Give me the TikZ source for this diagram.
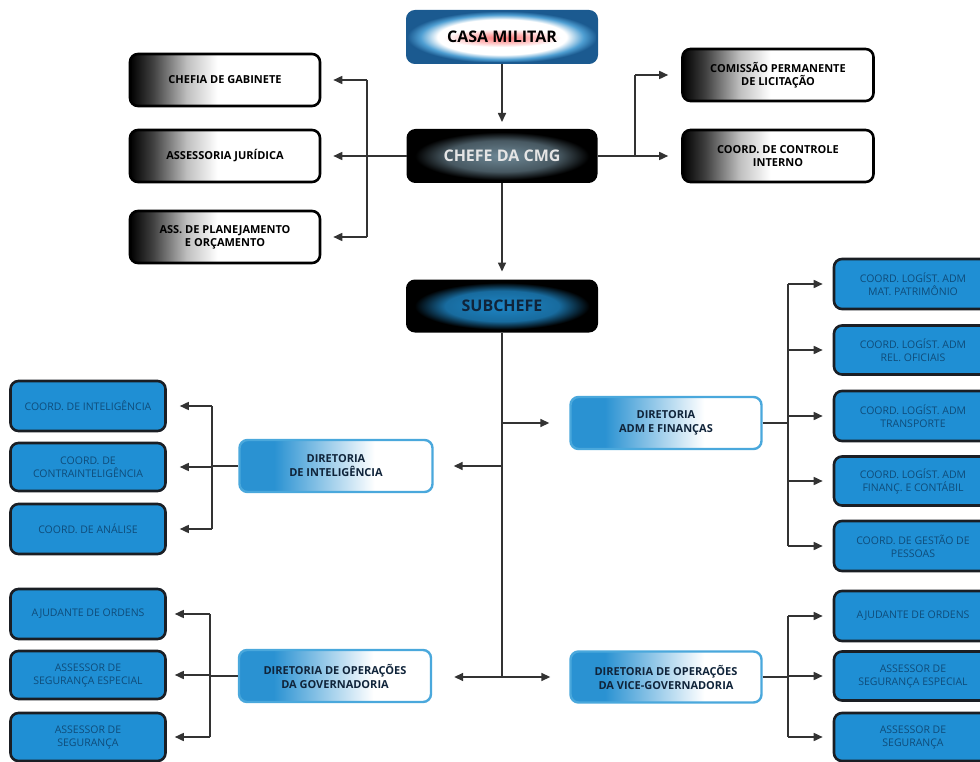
\documentclass[tikz,border=0pt]{standalone}
\usepackage{fontspec}
\setmainfont{Open Sans}
\usetikzlibrary{shapes.geometric,arrows.meta,calc}
\definecolor{leafblue}{HTML}{1F8FD4}
\definecolor{leafedge}{HTML}{1A1E24}
\definecolor{leaftext}{HTML}{0F4C7A}
\definecolor{dirblue}{HTML}{2A92D2}
\definecolor{diredge}{HTML}{4AA8DC}
\definecolor{navy}{HTML}{10243A}
\definecolor{linec}{HTML}{333333}
\definecolor{chefec}{HTML}{6E8896}
\definecolor{subc}{HTML}{1E86C6}
\definecolor{casarim}{HTML}{1B5A90}
\definecolor{casamid}{HTML}{4E9ED2}
\pgfdeclarehorizontalshading{grayfade}{100bp}{color(0bp)=(black); color(25bp)=(black); color(31bp)=(black!75); color(40bp)=(black!25); color(48bp)=(white); color(100bp)=(white)}
\pgfdeclarehorizontalshading{bluefade}{100bp}{color(0bp)=(dirblue); color(25bp)=(dirblue); color(34bp)=(dirblue); color(60bp)=(white); color(100bp)=(white)}
\pgfdeclareradialshading{chefeshade}{\pgfpoint{0bp}{0bp}}{color(0bp)=(chefec); color(15bp)=(chefec!65!black); color(23bp)=(black); color(50bp)=(black)}
\pgfdeclareradialshading{subshade}{\pgfpoint{0bp}{0bp}}{color(0bp)=(subc); color(15bp)=(subc!80!black); color(23bp)=(black); color(50bp)=(black)}
\pgfdeclareradialshading{casashade}{\pgfpoint{0bp}{0bp}}{color(0bp)=(white); color(17bp)=(white); color(21.5bp)=(casamid); color(25bp)=(casarim); color(50bp)=(casarim)}
\tikzset{
  graybox/.style={draw=black, line width=2.6pt, rounded corners=8pt, shade, shading=grayfade,
    text=black, font=\bfseries\fontsize{11}{13}\selectfont, align=center, inner sep=0pt},
  leafbox/.style={draw=leafedge, fill=leafblue, line width=2.6pt, rounded corners=8pt,
    text=leaftext, font=\fontsize{10.5}{13}\selectfont, align=center, inner sep=0pt},
  dirbox/.style={draw=diredge, line width=2.4pt, rounded corners=8pt, shade, shading=bluefade,
    text=navy, font=\bfseries\fontsize{11}{14}\selectfont, align=center, inner sep=0pt},
  conn/.style={draw=linec, line width=1.6pt},
  arr/.style={conn, -{Triangle[length=9pt,width=8pt]}},
}
\begin{document}
\begin{tikzpicture}[x=1pt,y=-1pt]
\useasboundingbox (0,0) rectangle (980,762);
\fill[white] (0,0) rectangle (980,762);
\clip (0,0) rectangle (980,762);
% top
\node[draw=casarim, line width=2pt, rounded corners=8pt, shade, shading=casashade,
  minimum width=190pt, minimum height=52pt] (casa) at (502,37) {};
\node[ellipse, shade, inner color=red!55, outer color=white, minimum width=118pt, minimum height=18pt] (casaglow) at (502,38) {};
\node[font=\bfseries\fontsize{16}{18}\selectfont, text=black] (casalbl) at (502,37) {CASA MILITAR};
\node[draw=black, line width=2pt, rounded corners=8pt, shade, shading=chefeshade,
  minimum width=189pt, minimum height=52pt, text=gray!20, font=\bfseries\fontsize{16}{18}\selectfont] (chefe) at (502,156) {CHEFE DA CMG};
\node[graybox, minimum width=190pt, minimum height=52pt] (gab) at (225,80) {CHEFIA DE GABINETE};
\node[graybox, minimum width=190pt, minimum height=52pt] (jur) at (225,156) {ASSESSORIA JURÍDICA};
\node[graybox, minimum width=190pt, minimum height=52pt] (plan) at (225,237) {ASS. DE PLANEJAMENTO\\E ORÇAMENTO};
\node[graybox, minimum width=191pt, minimum height=52pt] (com) at (778,75) {COMISSÃO PERMANENTE\\DE LICITAÇÃO};
\node[graybox, minimum width=191pt, minimum height=52pt] (ctrl) at (778,156) {COORD. DE CONTROLE\\INTERNO};
\node[draw=black, line width=2pt, rounded corners=8pt, shade, shading=subshade,
  minimum width=190pt, minimum height=51pt, text=navy, font=\bfseries\fontsize{16}{18}\selectfont] (sub) at (502,306) {SUBCHEFE};
% directorates
\node[dirbox, minimum width=193pt, minimum height=52pt] (dint) at (336,466) {DIRETORIA\\DE INTELIGÊNCIA};
\node[dirbox, minimum width=191pt, minimum height=52pt] (dadm) at (666,423) {DIRETORIA\\ADM E FINANÇAS};
\node[dirbox, minimum width=192pt, minimum height=52pt] (dgov) at (335,676) {DIRETORIA DE OPERAÇÕES\\DA GOVERNADORIA};
\node[dirbox, minimum width=191pt, minimum height=51pt] (dvice) at (666,677) {DIRETORIA DE OPERAÇÕES\\DA VICE-GOVERNADORIA};
% leaves left
\node[leafbox, minimum width=155pt, minimum height=50pt] (ci1) at (88,406) {COORD. DE INTELIGÊNCIA};
\node[leafbox, minimum width=155pt, minimum height=48pt] (ci2) at (88,467) {COORD. DE\\CONTRAINTELIGÊNCIA};
\node[leafbox, minimum width=155pt, minimum height=50pt] (ci3) at (88,529) {COORD. DE ANÁLISE};
\node[leafbox, minimum width=155pt, minimum height=50pt] (g1) at (88,614) {AJUDANTE DE ORDENS};
\node[leafbox, minimum width=155pt, minimum height=48pt] (g2) at (88,675) {ASSESSOR DE\\SEGURANÇA ESPECIAL};
\node[leafbox, minimum width=155pt, minimum height=48pt] (g3) at (88,737) {ASSESSOR DE\\SEGURANÇA};
% leaves right
\node[leafbox, minimum width=158pt, minimum height=50pt] (a1) at (913,284) {COORD. LOGÍST. ADM\\MAT. PATRIMÔNIO};
\node[leafbox, minimum width=158pt, minimum height=49pt] (a2) at (913,350) {COORD. LOGÍST. ADM\\REL. OFICIAIS};
\node[leafbox, minimum width=158pt, minimum height=50pt] (a3) at (913,416) {COORD. LOGÍST. ADM\\TRANSPORTE};
\node[leafbox, minimum width=158pt, minimum height=49pt] (a4) at (913,481) {COORD. LOGÍST. ADM\\FINANÇ. E CONTÁBIL};
\node[leafbox, minimum width=158pt, minimum height=50pt] (a5) at (913,546) {COORD. DE GESTÃO DE\\PESSOAS};
\node[leafbox, minimum width=158pt, minimum height=50pt] (v1) at (913,616) {AJUDANTE DE ORDENS};
\node[leafbox, minimum width=158pt, minimum height=49pt] (v2) at (913,676) {ASSESSOR DE\\SEGURANÇA ESPECIAL};
\node[leafbox, minimum width=158pt, minimum height=48pt] (v3) at (913,737) {ASSESSOR DE\\SEGURANÇA};
% junction coordinates
\coordinate (jl) at (367,0);
\coordinate (jr) at (635,0);
\coordinate (js) at (502,0);
\coordinate (jbot) at (502,677);
\coordinate (jint) at (212,0);
\coordinate (jadm) at (788,0);
\coordinate (jgov) at (210,0);
\coordinate (jvice) at (788,0);
% top connectors
\draw[arr, shorten >=7pt] (casa.south) -- (chefe.north);
\draw[arr, shorten >=12pt] (chefe.west) -- (jur.east);
\draw[conn] (jl |- gab.east) -- (jl |- plan.east);
\draw[arr, shorten >=12pt] (jl |- gab.east) -- (gab.east);
\draw[arr, shorten >=12pt] (jl |- plan.east) -- (plan.east);
\draw[arr, shorten >=13pt] (chefe.east) -- (ctrl.west);
\draw[conn] (jr |- ctrl.west) -- (jr |- com.west);
\draw[arr, shorten >=13pt] (jr |- com.west) -- (com.west);
\draw[arr, shorten >=8pt] (chefe.south) -- (sub.north);
% subchefe trunk
\draw[conn] (sub.south) -- (jbot);
\draw[arr, shorten >=20pt] (js |- dint.east) -- (dint.east);
\draw[arr, shorten >=20pt] (js |- dadm.west) -- (dadm.west);
\draw[arr, shorten >=22pt] (jbot) -- (jbot -| dgov.east);
\draw[arr, shorten >=19pt] (jbot) -- (jbot -| dvice.west);
% inteligencia
\draw[conn] (dint.west) -- (jint |- dint.west);
\draw[conn] (jint |- ci1.east) -- (jint |- ci3.east);
\foreach \n in {ci1,ci2,ci3} \draw[arr, shorten >=13pt] (jint |- \n.east) -- (\n.east);
% adm
\draw[conn] (dadm.east) -- (jadm |- dadm.east);
\draw[conn] (jadm |- a1.west) -- (jadm |- a5.west);
\foreach \n in {a1,a2,a3,a4,a5} \draw[arr, shorten >=10pt] (jadm |- \n.west) -- (\n.west);
% governadoria
\draw[conn] (dgov.west) -- (jgov |- dgov.west);
\draw[conn] (jgov |- g1.east) -- (jgov |- g3.east);
\foreach \n in {g1,g2,g3} \draw[arr, shorten >=8pt] (jgov |- \n.east) -- (\n.east);
% vice
\draw[conn] (dvice.east) -- (jvice |- dvice.east);
\draw[conn] (jvice |- v1.west) -- (jvice |- v3.west);
\foreach \n in {v1,v2,v3} \draw[arr, shorten >=10pt] (jvice |- \n.west) -- (\n.west);
\end{tikzpicture}
\end{document}
